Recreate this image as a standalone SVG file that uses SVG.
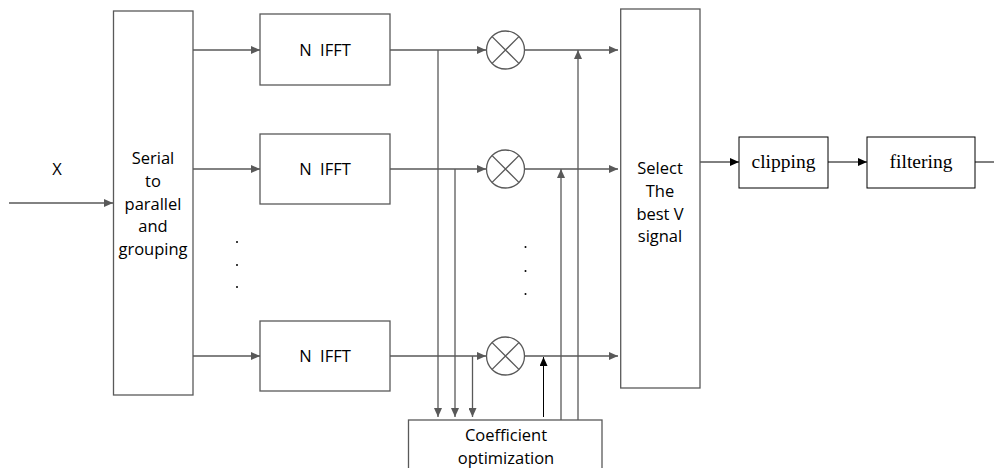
<svg xmlns="http://www.w3.org/2000/svg" width="994" height="468" viewBox="0 0 994 468">
<defs>
<marker id="ah" markerWidth="10" markerHeight="8" refX="9" refY="4" orient="auto" markerUnits="userSpaceOnUse">
<path d="M0,0 L9,4 L0,8 Z" fill="#595959"/>
</marker>
<marker id="ahb" markerWidth="10" markerHeight="8" refX="9" refY="4" orient="auto" markerUnits="userSpaceOnUse">
<path d="M0,0 L9,4 L0,8 Z" fill="#000"/>
</marker>
</defs>
<style>
.box{fill:#fff;stroke:#595959;stroke-width:1.3}
.bk{fill:#fff;stroke:#000;stroke-width:1}
.ln{fill:none;stroke:#595959;stroke-width:1.3}
.lk{fill:none;stroke:#000;stroke-width:1}
.t{font-family:"Open Sans","Noto Sans",sans-serif;font-size:16.5px;fill:#000;text-anchor:middle;white-space:pre}
.s{font-family:"Liberation Serif","Times New Roman",serif;font-size:19.5px;fill:#000;text-anchor:middle}
.dot{fill:#000}
</style>
<rect width="994" height="468" fill="#fff"/>

<g id="connectors">
<line class="ln" x1="9" y1="203" x2="113" y2="203" marker-end="url(#ah)"/>
<line class="ln" x1="193" y1="50" x2="260" y2="50" marker-end="url(#ah)"/>
<line class="ln" x1="193" y1="169" x2="260" y2="169" marker-end="url(#ah)"/>
<line class="ln" x1="193" y1="356" x2="260" y2="356" marker-end="url(#ah)"/>
<line class="ln" x1="390" y1="50" x2="486" y2="50" marker-end="url(#ah)"/>
<line class="ln" x1="390" y1="169" x2="486" y2="169" marker-end="url(#ah)"/>
<line class="ln" x1="390" y1="356" x2="486" y2="356" marker-end="url(#ah)"/>
<line class="ln" x1="525" y1="50" x2="618" y2="50" marker-end="url(#ah)"/>
<line class="ln" x1="525" y1="169" x2="618" y2="169" marker-end="url(#ah)"/>
<line class="ln" x1="525" y1="356" x2="618" y2="356" marker-end="url(#ah)"/>
<line class="ln" x1="438" y1="50" x2="438" y2="417" marker-end="url(#ah)"/>
<line class="ln" x1="455" y1="169" x2="455" y2="417" marker-end="url(#ah)"/>
<line class="ln" x1="472.5" y1="356" x2="472.5" y2="417" marker-end="url(#ah)"/>
<line class="lk" x1="543.5" y1="417" x2="543.5" y2="357" stroke-width="1.5" marker-end="url(#ahb)"/>
<line class="ln" x1="561" y1="420" x2="561" y2="169" marker-end="url(#ah)"/>
<line class="ln" x1="578" y1="420" x2="578" y2="50" marker-end="url(#ah)"/>
<line class="lk" x1="700" y1="162" x2="739" y2="162" marker-end="url(#ahb)"/>
<line class="lk" x1="828" y1="162" x2="867" y2="162" marker-end="url(#ahb)"/>
<line class="lk" x1="975" y1="162" x2="994" y2="162"/>
</g>

<g id="input-label"><text class="t" x="57" y="175">X</text></g>

<g id="serial">
<rect class="box" x="113.5" y="11" width="79.5" height="384"/>
<text class="t" x="153" y="164">Serial</text>
<text class="t" x="153" y="187">to</text>
<text class="t" x="153" y="209.5">parallel</text>
<text class="t" x="153" y="232">and</text>
<text class="t" x="153" y="255">grouping</text>
</g>

<g id="ifft1"><rect class="box" x="260" y="14" width="130" height="71"/><text class="t" x="325" y="56">N  IFFT</text></g>
<g id="ifft2"><rect class="box" x="260" y="134" width="130" height="70"/><text class="t" x="325" y="175">N  IFFT</text></g>
<g id="ifft3"><rect class="box" x="260" y="321" width="130" height="70"/><text class="t" x="325" y="362">N  IFFT</text></g>

<g id="dots-left">
<circle class="dot" cx="237" cy="242" r="1"/>
<circle class="dot" cx="237" cy="265" r="1"/>
<circle class="dot" cx="237" cy="287" r="1"/>
</g>

<g id="mult1"><circle class="box" cx="505.5" cy="50" r="19"/><path class="ln" d="M492.1,36.6 L518.9,63.4 M518.9,36.6 L492.1,63.4"/></g>
<g id="mult2"><circle class="box" cx="505.5" cy="169" r="19"/><path class="ln" d="M492.1,155.6 L518.9,182.4 M518.9,155.6 L492.1,182.4"/></g>
<g id="mult3"><circle class="box" cx="505.5" cy="356" r="19"/><path class="ln" d="M492.1,342.6 L518.9,369.4 M518.9,342.6 L492.1,369.4"/></g>

<g id="dots-mid">
<circle class="dot" cx="525.5" cy="247" r="1"/>
<circle class="dot" cx="525.5" cy="271" r="1"/>
<circle class="dot" cx="525.5" cy="294" r="1"/>
</g>

<g id="coef">
<rect class="box" x="408.5" y="420" width="193.5" height="60"/>
<text class="t" x="506" y="440.5">Coefficient</text>
<text class="t" x="506" y="463.5">optimization</text>
</g>

<g id="select">
<rect class="box" x="620.7" y="9" width="79.3" height="379"/>
<text class="t" x="660" y="174">Select</text>
<text class="t" x="660" y="197">The</text>
<text class="t" x="660" y="220">best V</text>
<text class="t" x="660" y="242">signal</text>
</g>

<g id="clipping"><rect class="bk" x="739" y="137" width="89" height="51"/><text class="s" x="783.5" y="168">clipping</text></g>
<g id="filtering"><rect class="bk" x="867" y="137" width="108" height="51"/><text class="s" x="921" y="168">filtering</text></g>
</svg>
